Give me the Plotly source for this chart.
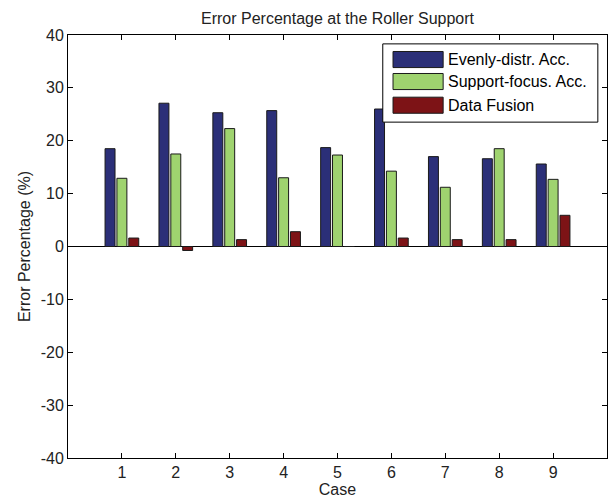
import plotly.graph_objects as go

# Error percentage at the roller support for each test case
cases = [1, 2, 3, 4, 5, 6, 7, 8, 9]
evenly_distr = [18.5, 27.1, 25.3, 25.7, 18.7, 26.0, 17.0, 16.6, 15.6]
support_focus = [12.9, 17.5, 22.3, 13.0, 17.3, 14.25, 11.2, 18.5, 12.7]
data_fusion = [1.6, -0.75, 1.3, 2.8, 0.0, 1.6, 1.3, 1.3, 5.9]

series_names = ["Evenly-distr. Acc.", "Support-focus. Acc.", "Data Fusion"]
series_colors = ["#2b2f78", "#9fd36f", "#7d1316"]
y_ticks = [-40, -30, -20, -10, 0, 10, 20, 30, 40]

FONT = "Liberation Sans, Arial, sans-serif"
TXT = "#222"

fig = go.Figure()
for name, vals, col in zip(series_names, [evenly_distr, support_focus, data_fusion], series_colors):
    fig.add_trace(go.Bar(
        x=cases, y=vals, name=name,
        marker=dict(color=col, line=dict(color="#1a1a1a", width=1)),
        showlegend=False,
    ))

# Boxed legend with wide colour swatches
lx0, lx1, ly0, ly1 = 0.584, 0.983, 0.794, 0.979
fig.add_shape(type="rect", xref="paper", yref="paper", x0=lx0, x1=lx1, y0=ly0, y1=ly1,
              line=dict(color="black", width=1), fillcolor="white", layer="above")
row_y = [0.942, 0.890, 0.834]
for name, col, yy in zip(series_names, series_colors, row_y):
    fig.add_shape(type="rect", xref="paper", yref="paper",
                  x0=0.603, x1=0.696, y0=yy - 0.019, y1=yy + 0.019,
                  line=dict(color="#1a1a1a", width=1), fillcolor=col, layer="above")
    fig.add_annotation(x=0.702, y=yy, xref="paper", yref="paper", text=name,
                       showarrow=False, xanchor="left", yanchor="middle",
                       font=dict(family=FONT, size=16, color="black"))

fig.update_layout(
    width=615, height=502,
    margin=dict(l=68, r=8, t=35, b=44),
    paper_bgcolor="white", plot_bgcolor="white",
    barmode="group", bargap=0.34, bargroupgap=0.16,
    font=dict(family=FONT, size=15, color=TXT),
    title=dict(text="Error Percentage at the Roller Support", x=0.5, xref="paper",
               xanchor="center", y=0.963, yanchor="middle",
               font=dict(family=FONT, size=16, color=TXT)),
    xaxis=dict(
        range=[0, 10], tickmode="array", tickvals=cases, ticktext=[str(c) for c in cases],
        ticks="inside", ticklen=5, tickcolor="black", showline=True, linecolor="black",
        linewidth=1, mirror="ticks", showgrid=False, zeroline=False,
        tickfont=dict(family=FONT, size=16, color=TXT),
        title=dict(text="Case", standoff=3, font=dict(family=FONT, size=16, color=TXT)),
    ),
    yaxis=dict(
        range=[-40, 40], tickmode="array", tickvals=y_ticks, ticktext=[str(v) for v in y_ticks],
        ticks="inside", ticklen=5, tickcolor="black", showline=True, linecolor="black",
        linewidth=1, mirror="ticks", showgrid=False,
        zeroline=True, zerolinecolor="black", zerolinewidth=1,
        tickfont=dict(family=FONT, size=16, color=TXT),
        title=dict(text="Error Percentage (%)", standoff=6, font=dict(family=FONT, size=16, color=TXT)),
    ),
)

fig.write_html("out.html")
